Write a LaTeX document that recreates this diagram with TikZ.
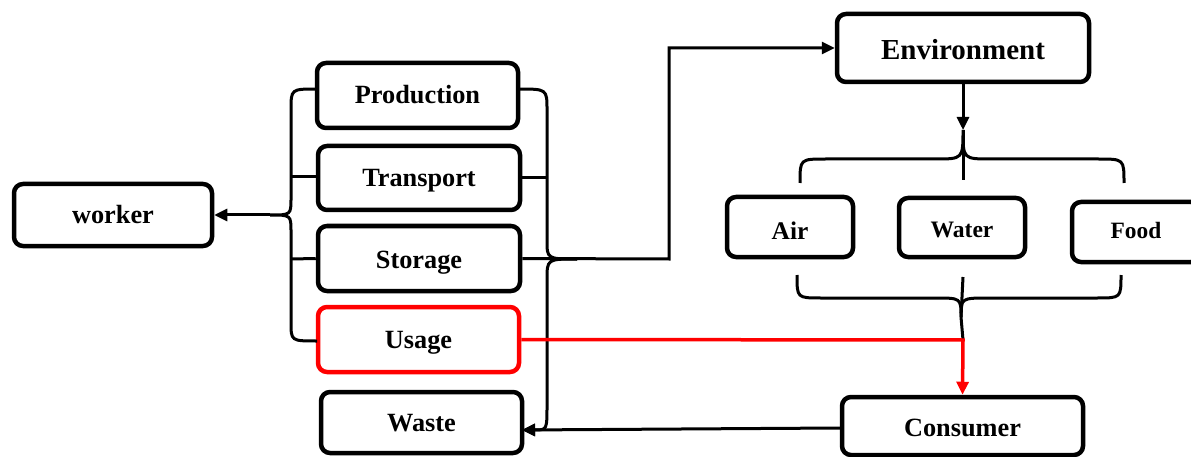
\documentclass[tikz,border=0pt]{standalone}
\usepackage{fontspec}
\setmainfont{Liberation Serif}
\usetikzlibrary{arrows.meta}
\tikzset{
  box/.style={draw=black, line width=4.5pt, rounded corners=9pt, fill=white,
              inner sep=0pt, text height=17pt, text depth=0pt,
              font=\fontsize{26.3}{30}\selectfont\bfseries},
  redbox/.style={box, draw=red},
  conn/.style={draw=black, line width=3pt},
  redconn/.style={draw=red, line width=3.5pt},
  tip/.style={-{Triangle[length=13pt,width=12pt]}},
}
\begin{document}
\begin{tikzpicture}[x=1pt, y=-1pt]
\path[use as bounding box, clip] (0,0) rectangle (1191,457);
\fill[white] (0,0) rectangle (1191,457);

% boxes
\node[box, minimum width=198pt, minimum height=62pt, text height=16pt] (worker) at (113,215) {worker};
\node[box, minimum width=201pt, minimum height=65pt] (production) at (417.5,95.5) {Production};
\node[box, minimum width=202pt, minimum height=64pt, text height=18pt] (transport) at (419,178) {Transport};
\node[box, minimum width=202pt, minimum height=65pt, text height=19pt] (storage) at (419,258.5) {Storage};
\node[redbox, minimum width=201pt, minimum height=65pt] (usage) at (418.5,339.5) {Usage};
\node[box, minimum width=201pt, minimum height=61pt, text height=18pt] (waste) at (421.5,422.5) {Waste};
\node[box, minimum width=252pt, minimum height=68pt, text height=24pt, font=\fontsize{29}{32}\selectfont\bfseries] (environment) at (963,48) {Environment};
\node[box, minimum width=126pt, minimum height=60pt, text height=26pt, font=\fontsize{25.4}{28}\selectfont\bfseries] (air) at (790,227) {Air};
\node[box, minimum width=126pt, minimum height=59pt, text height=19pt, font=\fontsize{23.6}{26}\selectfont\bfseries] (water) at (962,227.5) {Water};
\node[box, minimum width=128pt, minimum height=60pt, text height=14pt, font=\fontsize{23.4}{26}\selectfont\bfseries] (food) at (1136,232) {Food};
\node[box, minimum width=241pt, minimum height=58pt, text height=21pt] (consumer) at (962.5,426) {Consumer};

% helper points
\coordinate (ltip) at (270,215);
\coordinate (rtip) at (577,259);
\coordinate (riser) at (669,259);
\coordinate (ttip) at (963,130);
\coordinate (btip) at (961,317);
\coordinate (bend) at (963,340);
\coordinate (wastein) at (522,430);

% left brace gathering the activities into the worker
\draw[conn] (317,89) .. controls (291,89) .. (291,110) -- (291,198)
  .. controls (291,215) .. (ltip) .. controls (291,215) .. (291,232)
  -- (291,322) .. controls (291,341) .. (317,341);
\draw[conn] (291,177) -- (transport.west |- 0,177);
\draw[conn] (291,259) -- (storage.west);
\draw[conn, tip] (ltip) -- (worker.east);

% right brace gathering the activities towards environment and waste
\draw[conn] (518,89) .. controls (547,89) .. (547,110) -- (547,240)
  .. controls (547,259) .. (rtip);
\draw[conn, tip] (rtip) .. controls (547,259) .. (547,280) -- (547,405)
  .. controls (547,430) .. (wastein);
\draw[conn] (transport.east |- 0,178) -- (547,178);
\draw[conn, tip] (storage.east) -- (riser) |- (environment.west);

% environment splits into air, water and food
\draw[conn, tip] (environment.south) -- (ttip);
\draw[conn] (800,183) .. controls (800,159) .. (826,159) -- (935,159)
  .. controls (963,159) .. (ttip) .. controls (963,159) .. (991,159)
  -- (1098,159) .. controls (1124,159) .. (1124,183);
\draw[conn] (ttip) -- (963,180);

% air, water and food join towards the consumer
\draw[conn] (797,275) .. controls (797,298) .. (821,298) -- (935,298)
  .. controls (961,298) .. (btip) .. controls (961,298) .. (989,298)
  -- (1097,298) .. controls (1121,298) .. (1121,275);
\draw[conn] (963,277) -- (btip) -- (bend);

% usage path to the consumer
\draw[redconn, tip] (usage.east) -- (bend) -- (consumer.north);

% consumer back to waste
\draw[conn, tip] (consumer.west |- 0,428) -- (wastein);
\end{tikzpicture}
\end{document}
